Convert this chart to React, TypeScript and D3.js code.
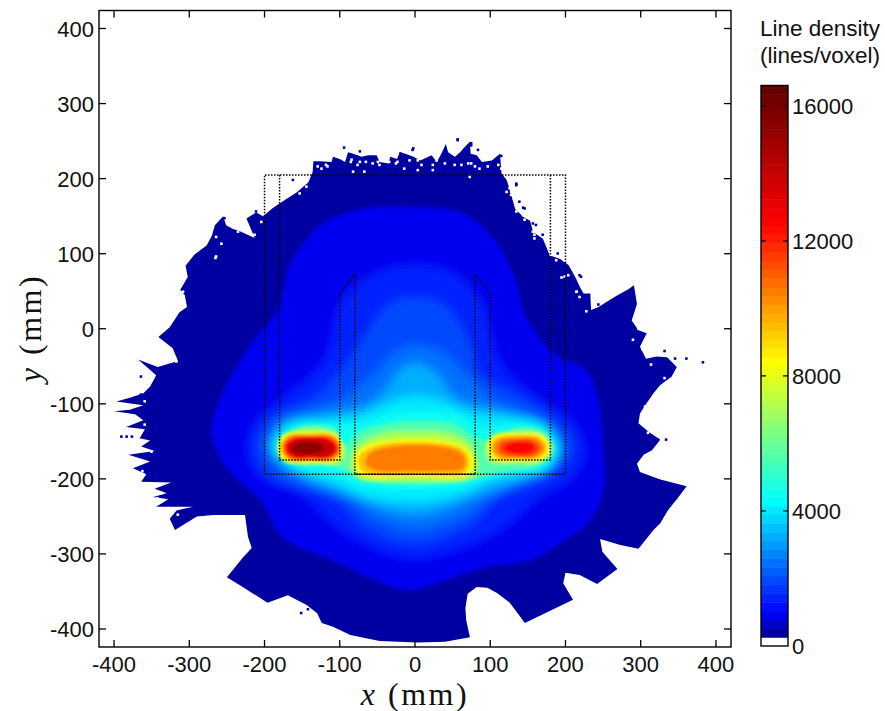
// Line density map (lines/voxel) with detector frame overlay
import React from 'react';
import * as d3 from 'd3';

type Pt = [number, number];

const xTicks = [-400, -300, -200, -100, 0, 100, 200, 300, 400];
const yTicks = [-400, -300, -200, -100, 0, 100, 200, 300, 400];
const barTicks = [0, 4000, 8000, 12000, 16000];
const barMax = 16600;
const levelCount = 64;

// colour map
const stopValues = [260, 1000, 4300, 8400, 12500, 16600];
const stopColors = ['#00008c', '#0000ff', '#00ffff', '#ffff00', '#ff0000', '#600000'];

// edge of the covered area (mm)
const outline: Pt[] = [
  [-136, 209], [-135, 223], [-126, 223], [-111, 222], [-109, 229], [-100, 226], [-93, 222], [-89, 235], [-82, 233], [-71, 229],
  [-62, 231], [-51, 231], [-47, 222], [-35, 220], [-33, 229], [-24, 226], [-20, 235], [-13, 233], [-2, 229], [7, 224],
  [22, 231], [29, 222], [35, 233], [41, 246], [44, 235], [53, 229], [60, 235], [66, 242], [73, 249], [74, 233],
  [82, 231], [89, 222], [102, 224], [113, 233], [115, 207], [122, 198], [127, 182],
  [133, 160], [144, 149], [153, 144], [157, 129], [170, 120], [179, 98], [193, 93], [204, 85], [213, 69], [219, 56],
  [224, 47], [233, 47], [234, 25], [244, 29], [255, 36], [268, 44], [284, 53], [291, 58], [295, 33], [288, 11],
  [297, -2], [308, -6], [299, -24], [307, -40], [321, -37], [335, -38], [348, -51], [341, -64], [326, -75], [317, -86],
  [306, -102], [299, -113], [297, -126], [310, -137], [326, -148], [315, -162], [304, -168], [295, -180], [299, -191], [326, -201],
  [361, -210], [348, -227], [336, -242], [326, -259], [317, -268], [297, -293], [273, -288], [246, -280], [249, -297], [269, -320],
  [242, -340], [219, -328], [200, -325], [197, -339], [210, -361], [146, -392], [126, -365], [109, -352], [96, -345], [82, -344], [70, -353],
  [67, -372], [68, -388], [73, -411], [40, -417], [3, -418], [-47, -416], [-86, -408], [-109, -397], [-124, -392], [-130, -379], [-144, -368],
  [-169, -355], [-196, -365], [-229, -344], [-250, -331], [-229, -305], [-217, -292], [-222, -277], [-226, -248], [-268, -248], [-290, -250],
  [-319, -268], [-326, -253], [-317, -242], [-295, -237], [-344, -237], [-328, -227], [-348, -224], [-330, -219], [-346, -213], [-324, -205],
  [-364, -204], [-357, -194], [-375, -186], [-352, -177], [-381, -168], [-346, -163], [-364, -157], [-352, -149], [-366, -146], [-359, -134],
  [-384, -131], [-361, -122], [-372, -114], [-400, -110], [-379, -108], [-361, -102], [-397, -97], [-379, -92], [-361, -86], [-352, -77],
  [-344, -62], [-368, -41], [-342, -51], [-315, -43], [-322, -26], [-341, -11], [-333, -4], [-326, 2], [-313, 22], [-303, 29],
  [-306, 45], [-312, 52], [-302, 69], [-305, 84], [-293, 99], [-277, 111], [-270, 124], [-266, 138], [-255, 150], [-251, 138],
  [-242, 133], [-235, 131], [-224, 126], [-213, 121], [-224, 147], [-211, 155], [-202, 150], [-189, 161], [-171, 173], [-157, 182],
  [-142, 195],
];

// isolated voxels near the edge
const edgeHoles: Pt[] = [
  [-118, 218], [-87, 224], [-78, 220], [-51, 224], [-25, 224], [2, 226], [22, 220], [73, 222], [95, 218],
  [-162, 193], [-171, 184], [-155, 182], [-189, 167], [-206, 144], [-215, 127], [130, 175], [142, 153], [157, 127], [186, 93],
  [213, 51], [197, 71], [-266, 98], [-310, 51], [-361, -95],
  [-131, 218], [-120, 220], [-126, 215], [-84, 211], [-69, 211], [-86, 227], [-75, 224], [-67, 224], [-58, 222], [-49, 220],
  [-36, 224], [-27, 222], [-16, 215], [-9, 226], [2, 213], [7, 220], [22, 213], [27, 226], [38, 222], [51, 220],
  [60, 220], [69, 222], [78, 218], [71, 204], [84, 215], [109, 220], [113, 215], [-144, 200], [-146, 191], [124, 189],
  [129, 178], [126, 184], [120, 184], [126, 180], [133, 158], [144, 147], [155, 131], [157, 122], [179, 100], [197, 93],
  [193, 70], [202, 73], [213, 51], [217, 44], [226, 25], [295, 2], [288, -13], [301, -26], [312, -46], [330, -64],
  [304, -102], [304, -126], [308, -137], [-266, 124], [-259, 115], [-267, 96], [-237, 131], [-319, -42], [-361, -126], [-364, -148],
  [-352, -162], [-370, -173], [-364, -188], [-339, -217], [-344, -224], [-317, -246],
];
const edgeVoxels: Pt[] = [
  [55, 253], [73, 246], [-5, 240], [133, 195], [144, 162], [159, 140], [217, 73], [-213, 158], [-220, 147], [-164, 200],
  [-160, 171], [-200, 120], [381, -43], [359, -38], [330, -28], [-392, -142], [-385, -142], [-378, -142], [-153, -377], [-144, -372],
  [-96, 243], [55, 254], [73, 249], [-4, 242], [137, 171], [-75, 238], [-21, 235], [82, 240], [113, 232], [133, 193],
  [142, 163], [155, 142], [168, 127], [188, 102], [219, 71], [242, 34], [321, -146], [332, -146], [344, -38], [-255, 149],
  [-313, 18], [-366, -62], [-366, -86], [-301, -239],
];

// iso-density outlines (mm)
const level500: Pt[][] = [[
  [0, 175], [73, 166], [113, 131], [136, 87], [153, 42], [162, 5], [202, -38], [237, -29], [255, -46], [255, -112],
  [263, -162], [269, -202], [277, -245], [246, -278], [202, -291], [180, -308], [104, -325], [60, -331], [47, -352], [43, -411],
  [-20, -375], [-64, -352], [-122, -321], [-153, -295], [-206, -246], [-219, -222], [-286, -179], [-290, -135], [-286, -82], [-273, -69],
  [-255, -11], [-223, 2], [-202, 29], [-184, 87], [-144, 114], [-140, 135], [-100, 167], [-40, 175],
]];
const level800: Pt[][] = [[
  [0, 162], [60, 155], [106, 118], [133, 65], [146, 18], [186, -35], [226, -55], [243, -95], [250, -162], [250, -215],
  [233, -255], [200, -281], [153, -308], [96, -317], [40, -335], [-7, -348], [-47, -337], [-109, -308], [-176, -278], [-202, -232],
  [-253, -182], [-270, -135], [-257, -89], [-219, -22], [-182, 25], [-166, 85], [-126, 138], [-66, 160],
]];
const level1000: Pt[][] = [[
  [0, 128], [53, 120], [93, 85], [120, 31], [129, -15], [160, -55], [213, -82], [233, -148], [233, -215], [213, -248],
  [166, -281], [113, -297], [53, -311], [0, -328], [-47, -315], [-109, -291], [-153, -245], [-173, -224], [-219, -194], [-235, -148],
  [-233, -122], [-193, -91], [-144, -46], [-126, 38], [-93, 111], [-47, 125],
]];
const level1400: Pt[][] = [[
  [0, 84], [47, 75], [86, 38], [113, -46], [160, -91], [206, -122], [225, -158], [213, -194], [166, -224], [113, -268],
  [60, -292], [0, -305], [-53, -292], [-106, -261], [-146, -224], [-209, -194], [-222, -158], [-209, -122], [-173, -91], [-122, -46],
  [-93, 42], [-47, 75],
]];
const level1900: Pt[][] = [[
  [0, 42], [40, 31], [73, -22], [86, -62], [140, -91], [186, -122], [209, -158], [186, -194], [113, -224], [73, -261],
  [0, -286], [-60, -268], [-106, -228], [-193, -194], [-209, -158], [-193, -122], [-133, -91], [-93, -49], [-53, 11], [-33, 34],
]];
const level2500: Pt[][] = [[
  [0, -22], [33, -29], [70, -62], [100, -91], [146, -111], [182, -128], [198, -158], [169, -194], [100, -224], [66, -248],
  [0, -268], [-60, -248], [-93, -224], [-173, -194], [-198, -158], [-182, -122], [-140, -108], [-93, -91], [-53, -58], [-27, -31],
]];
const level3200: Pt[][] = [[
  [0, -46], [27, -58], [53, -91], [106, -108], [166, -124], [189, -158], [153, -194], [80, -224], [0, -248], [-86, -224],
  [-156, -194], [-193, -158], [-169, -124], [-126, -115], [-66, -102], [-40, -82], [-20, -55],
]];
const level3900: Pt[][] = [[
  [0, -89], [33, -95], [73, -111], [126, -118], [173, -131], [186, -158], [153, -186], [100, -202], [60, -222], [0, -232],
  [-66, -224], [-100, -208], [-153, -188], [-188, -158], [-173, -130], [-126, -122], [-73, -115], [-33, -98],
]];
const level4600: Pt[][] = [[
  [0, -111], [60, -115], [86, -132], [133, -126], [173, -132], [190, -162], [173, -188], [113, -198], [73, -208], [-7, -215],
  [-80, -207], [-106, -195], [-160, -186], [-184, -162], [-170, -135], [-144, -123], [-100, -128], [-66, -124], [-33, -114],
]];
const level5500: Pt[][] = [[
  [0, -123], [53, -127], [84, -146], [110, -149], [133, -132], [173, -138], [184, -162], [166, -182], [113, -191], [73, -202],
  [-7, -208], [-73, -200], [-93, -189], [-120, -182], [-160, -180], [-177, -162], [-166, -139], [-144, -129], [-106, -133], [-93, -155],
  [-76, -138], [-40, -127],
]];
const level6500: Pt[][] = [
  [[0, -135], [45, -137], [72, -150], [82, -166], [84, -190], [72, -202], [0, -204], [-72, -202], [-85, -190], [-85, -164], [-70, -148], [-35, -136]],
  [[-144, -132], [-109, -139], [-94, -158], [-94, -178], [-126, -181], [-160, -180], [-183, -162], [-170, -140]],
  [[133, -136], [166, -139], [181, -155], [181, -167], [166, -179], [126, -180], [97, -178], [95, -150], [109, -140]],
];
const level7500: Pt[][] = [
  [[0, -141], [40, -143], [68, -153], [79, -168], [80, -188], [70, -199], [0, -200], [-70, -199], [-81, -188], [-81, -166], [-66, -152], [-35, -143]],
  [[-140, -136], [-108, -138], [-96, -152], [-96, -170], [-108, -179], [-140, -179], [-170, -179], [-181, -169], [-181, -148], [-170, -138]],
  [[135, -139], [166, -140], [179, -152], [179, -166], [166, -177], [135, -178], [108, -178], [97, -168], [97, -150], [108, -140]],
];
const level8400: Pt[][] = [
  [[0, -148], [35, -150], [62, -157], [75, -170], [76, -186], [68, -196], [0, -197], [-68, -196], [-78, -186], [-78, -168], [-62, -156], [-35, -150]],
  [[-140, -139], [-110, -140], [-98, -152], [-97, -168], [-108, -178], [-140, -178], [-168, -178], [-180, -168], [-180, -150], [-168, -140]],
  [[135, -140], [165, -141], [177, -152], [177, -165], [165, -175], [135, -176], [110, -176], [99, -167], [99, -150], [110, -141]],
];
const level9500: Pt[][] = [
  [[0, -151], [35, -153], [60, -159], [71, -171], [72, -184], [64, -193], [0, -194], [-64, -193], [-74, -184], [-74, -170], [-60, -159], [-35, -153]],
  [[-140, -140], [-110, -141], [-99, -152], [-99, -167], [-110, -176], [-140, -176], [-166, -176], [-177, -166], [-177, -151], [-166, -141]],
  [[135, -142], [163, -144], [174, -154], [174, -164], [163, -173], [135, -174], [112, -174], [102, -165], [102, -152], [112, -144]],
];
const level10500: Pt[][] = [
  [[5, -155], [35, -157], [55, -162], [66, -172], [64, -186], [30, -190], [-10, -190], [-50, -189], [-66, -180], [-60, -166], [-30, -157]],
  [[-140, -142], [-112, -143], [-101, -153], [-101, -166], [-112, -174], [-140, -175], [-165, -174], [-175, -165], [-175, -152], [-165, -143]],
  [[135, -145], [160, -146], [170, -155], [170, -163], [160, -171], [135, -172], [116, -171], [106, -164], [106, -153], [116, -147]],
];
const level11500: Pt[][] = [
  [[-140, -143], [-114, -145], [-103, -154], [-103, -165], [-114, -173], [-140, -174], [-163, -173], [-173, -164], [-173, -153], [-163, -145]],
  [[137, -148], [156, -149], [165, -157], [165, -162], [156, -169], [135, -170], [120, -168], [112, -162], [112, -155], [120, -150]],
];
const level12500: Pt[][] = [
  [[-140, -144], [-116, -146], [-105, -155], [-105, -164], [-116, -172], [-140, -172], [-161, -172], [-171, -164], [-171, -154], [-161, -146]],
  [[140, -151], [152, -152], [160, -158], [152, -165], [137, -167], [125, -164], [118, -159], [125, -153]],
];
const level14000: Pt[][] = [
  [[-140, -147], [-118, -149], [-107, -157], [-107, -163], [-118, -170], [-140, -170], [-158, -170], [-168, -163], [-168, -155], [-158, -149]],
];
const level15500: Pt[][] = [
  [[-145, -151], [-128, -153], [-120, -158], [-128, -165], [-145, -167], [-158, -165], [-165, -159], [-158, -153]],
];

const isoValues = [500, 800, 1000, 1400, 1900, 2500, 3200, 3900, 4600, 5500, 6500, 7500, 8400, 9500, 10500, 11500, 12500, 14000, 15500];
const isoRings = [
  level500, level800, level1000, level1400, level1900, level2500, level3200, level3900, level4600, level5500,
  level6500, level7500, level8400, level9500, level10500, level11500, level12500, level14000, level15500,
];

// detector frame (mm)
const outerFrame: Pt[] = [[-200, -194], [-200, 205], [200, 205], [200, -194], [-200, -194]];
const innerFrame: Pt[] = [
  [-180, 205], [-180, -175], [-100, -175], [-100, 47], [-80, 73], [-80, -194], [80, -194], [80, 73], [100, 47], [100, -175], [180, -175], [180, 205],
];

const x = d3.scaleLinear().domain([-420, 420]).range([99, 731]);
const y = d3.scaleLinear().domain([-424, 424]).range([647, 10.5]);
const barY = d3.scaleLinear().domain([0, barMax]).range([646, 85.5]);

const jet = d3.scaleLinear<string>().domain(stopValues).range(stopColors).interpolate(d3.interpolateRgb).clamp(true);

const levelColor = (value: number) => {
  const i = Math.min(levelCount - 1, Math.floor((value / barMax) * levelCount));
  return i === 0 ? '#ffffff' : jet(((i + 0.5) / levelCount) * barMax);
};

const ring = d3.line<Pt>().x(d => x(d[0])).y(d => y(d[1])).curve(d3.curveCatmullRomClosed.alpha(0.5));
const poly = d3.line<Pt>().x(d => x(d[0])).y(d => y(d[1]));

const sans = '"Liberation Sans", Arial, sans-serif';
const serif = '"Liberation Serif", "Times New Roman", serif';

// contours grouped by how soft their edges look in the map
const softGroups = [
  { id: 'softLow', blur: 2, from: 500, to: 800 },
  { id: 'softMid', blur: 5, from: 1000, to: 4600 },
  { id: 'softHot', blur: 1.6, from: 5500, to: 15500 },
];

export default function App() {
  const voxel = Math.abs(x(3.4) - x(0));
  const barLevels = d3.range(levelCount);
  return (
    <svg width={885} height={711} style={{ position: 'absolute', left: 0, top: 0, background: '#fff' }}>
      <defs>
        <clipPath id="covered">
          <path d={poly(outline) + 'Z'} />
        </clipPath>
        {softGroups.map(g => (
          <filter key={g.id} id={g.id} x="-10%" y="-10%" width="120%" height="120%">
            <feGaussianBlur stdDeviation={g.blur} />
          </filter>
        ))}
      </defs>

      <path d={poly(outline) + 'Z'} fill={levelColor(300)} />
      <g clipPath="url(#covered)">
        {softGroups.map(g => (
          <g key={g.id} filter={`url(#${g.id})`}>
            {isoValues.map((v, i) =>
              v >= g.from && v <= g.to
                ? isoRings[i].map((r, j) => <path key={`${v}-${j}`} d={ring(r) ?? ''} fill={levelColor(v)} />)
                : null
            )}
          </g>
        ))}
      </g>
      {edgeHoles.map((d, i) => (
        <rect key={i} x={x(d[0])} y={y(d[1])} width={voxel} height={voxel} fill="#fff" />
      ))}
      {edgeVoxels.map((d, i) => (
        <rect key={i} x={x(d[0])} y={y(d[1])} width={voxel} height={voxel} fill={levelColor(300)} />
      ))}

      <path d={poly(outerFrame) ?? ''} fill="none" stroke="#000" strokeWidth={1.5} strokeDasharray="1.5 1.5" />
      <path d={poly(innerFrame) ?? ''} fill="none" stroke="#000" strokeWidth={1.5} strokeDasharray="1.5 1.5" />

      <rect x={99} y={10.5} width={632} height={636.5} fill="none" stroke="#000" strokeWidth={1.4} />
      {xTicks.map(t => (
        <g key={t}>
          <line x1={x(t)} x2={x(t)} y1={647} y2={640} stroke="#000" strokeWidth={1.3} />
          <line x1={x(t)} x2={x(t)} y1={10.5} y2={17.5} stroke="#000" strokeWidth={1.3} />
          <text x={x(t)} y={672} textAnchor="middle" fontFamily={sans} fontSize={22} fill="#111">{t}</text>
        </g>
      ))}
      {yTicks.map(t => (
        <g key={t}>
          <line x1={99} x2={106} y1={y(t)} y2={y(t)} stroke="#000" strokeWidth={1.3} />
          <line x1={731} x2={724} y1={y(t)} y2={y(t)} stroke="#000" strokeWidth={1.3} />
          <text x={94} y={y(t) + 8} textAnchor="end" fontFamily={sans} fontSize={22} fill="#111">{t}</text>
        </g>
      ))}
      <text x={415} y={705} textAnchor="middle" fontFamily={serif} fontSize={32} letterSpacing={2.5} fill="#111">
        <tspan fontStyle="italic">x</tspan> (mm)
      </text>
      <text transform="translate(41,328) rotate(-90)" textAnchor="middle" fontFamily={serif} fontSize={32} letterSpacing={2.5} fill="#111">
        <tspan fontStyle="italic">y</tspan> (mm)
      </text>

      <text x={760} y={36} fontFamily={sans} fontSize={22.5} fill="#111">Line density</text>
      <text x={760} y={63} fontFamily={sans} fontSize={22.5} fill="#111">(lines/voxel)</text>
      {barLevels.map(i => (
        <rect
          key={i}
          x={761}
          y={barY(((i + 1) / levelCount) * barMax)}
          width={27}
          height={barY((i / levelCount) * barMax) - barY(((i + 1) / levelCount) * barMax) + 0.5}
          fill={levelColor(((i + 0.5) / levelCount) * barMax)}
        />
      ))}
      <rect x={761} y={85.5} width={27} height={560.5} fill="none" stroke="#000" strokeWidth={1.4} />
      {barTicks.map(t => (
        <g key={t}>
          {t > 0 && <line x1={761} x2={766} y1={barY(t)} y2={barY(t)} stroke="#000" strokeWidth={1.2} />}
          {t > 0 && <line x1={783} x2={788} y1={barY(t)} y2={barY(t)} stroke="#000" strokeWidth={1.2} />}
          <text x={792} y={barY(t) + 8} fontFamily={sans} fontSize={22} fill="#111">{t}</text>
        </g>
      ))}
    </svg>
  );
}
